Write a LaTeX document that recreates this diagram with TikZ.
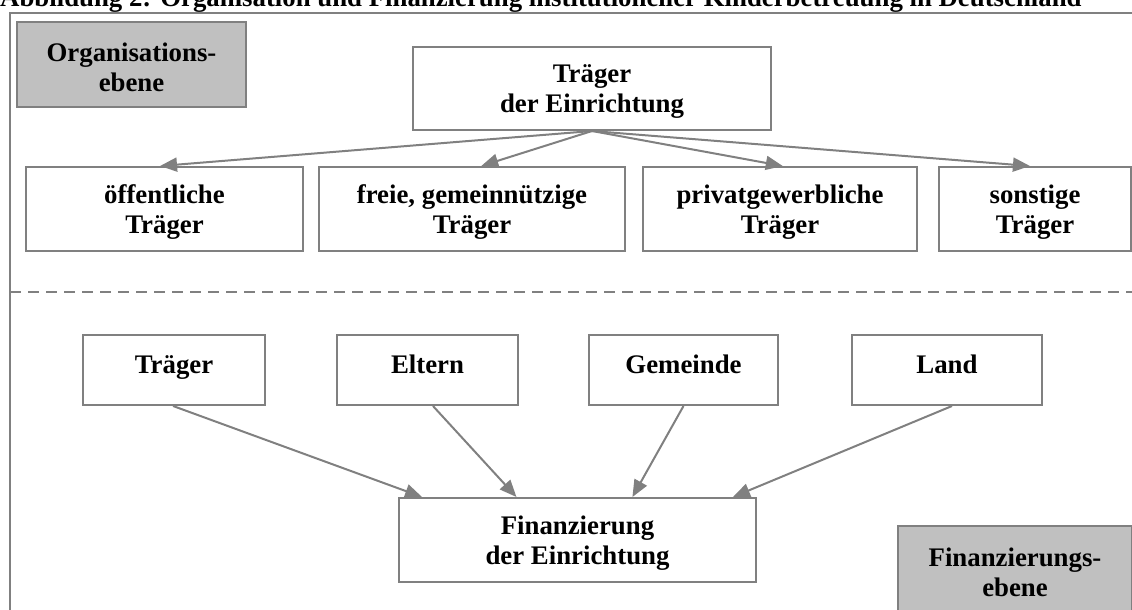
\documentclass[tikz,border=0pt]{standalone}
\usepackage{fontspec}
\setmainfont{Liberation Serif}
\usetikzlibrary{arrows.meta,calc}
\definecolor{lg}{HTML}{808080}
\definecolor{fillg}{HTML}{C0C0C0}
\begin{document}
\begin{tikzpicture}[x=1pt,y=-1pt,
  txt/.style={font=\fontsize{26.8}{30}\selectfont\bfseries},
  box/.style={txt, draw=lg, line width=2pt, fill=white, inner sep=0pt, align=center},
  gbox/.style={box, fill=fillg},
  two/.style={txt, align=center, inner sep=0pt, yshift=-3pt},
  one/.style={text height=14pt, text depth=7pt},
  arr/.style={lg, line width=2pt, -{Triangle[length=17pt,width=14pt]}}]
\useasboundingbox (0,0) rectangle (1132,610);
\clip (0,0) rectangle (1132,610);
% title
\node[txt, anchor=base west, inner sep=0pt] (title) at (0,7) {Abbildung 2: Organisation und Finanzierung institutioneller Kinderbetreuung in Deutschland};
% frame
\coordinate (ftl) at (10,13);
\coordinate (fbr) at (1150,630);
\draw[lg, line width=2pt] (ftl) rectangle (fbr);
% dashed separator
\coordinate (dl) at (10,292);
\coordinate (dr) at (1132,292);
\draw[lg, line width=2pt, dash pattern=on 11pt off 7pt] (dl) -- (dr);
% level labels
\node[gbox, minimum width=229pt, minimum height=85pt, label={[two]center:Organisations-\\ebene}] (org) at (131.5,64.5) {};
\node[gbox, minimum width=234pt, minimum height=86pt, label={[two]center:Finanzierungs-\\ebene}] (finebene) at (1015,569) {};
% organisation level
\node[box, minimum width=358pt, minimum height=83pt, label={[two]center:Träger\\der Einrichtung}] (tde) at (592,88.5) {};
\node[box, minimum width=277pt, minimum height=84pt, label={[two]center:öffentliche\\Träger}] (oeff) at (164.5,209) {};
\node[box, minimum width=306pt, minimum height=84pt, label={[two]center:freie, gemeinnützige\\Träger}] (freie) at (472,209) {};
\node[box, minimum width=274pt, minimum height=84pt, label={[two]center:privatgewerbliche\\Träger}] (priv) at (780,209) {};
\node[box, minimum width=192pt, minimum height=84pt, label={[two]center:sonstige\\Träger}] (sonst) at (1035,209) {};
% financing level
\node[box, one, minimum width=182pt, minimum height=70pt] (ftr) at (174,370) {Träger};
\node[box, one, minimum width=181pt, minimum height=70pt] (elt) at (427.5,370) {Eltern};
\node[box, one, minimum width=189pt, minimum height=70pt] (gem) at (683.5,370) {Gemeinde};
\node[box, one, minimum width=190pt, minimum height=70pt] (land) at (947,370) {Land};
\node[box, minimum width=357pt, minimum height=84pt, label={[two]center:Finanzierung\\der Einrichtung}] (fin) at (577.5,540) {};
% arrows top
\draw[arr] (tde.south) -- ($(oeff.north west)!0.484!(oeff.north east)$);
\draw[arr] (tde.south) -- ($(freie.north west)!0.53!(freie.north east)$);
\draw[arr] (tde.south) -- ($(priv.north west)!0.51!(priv.north east)$);
\draw[arr] (tde.south) -- ($(sonst.north west)!0.474!(sonst.north east)$);
% arrows bottom
\draw[arr] ($(ftr.south west)!0.495!(ftr.south east)$) -- ($(fin.north west)!0.067!(fin.north east)$);
\draw[arr] ($(elt.south west)!0.53!(elt.south east)$) -- ($(fin.north west)!0.33!(fin.north east)$);
\draw[arr] (gem.south) -- ($(fin.north west)!0.653!(fin.north east)$);
\draw[arr] ($(land.south west)!0.526!(land.south east)$) -- ($(fin.north west)!0.933!(fin.north east)$);
\end{tikzpicture}
\end{document}
